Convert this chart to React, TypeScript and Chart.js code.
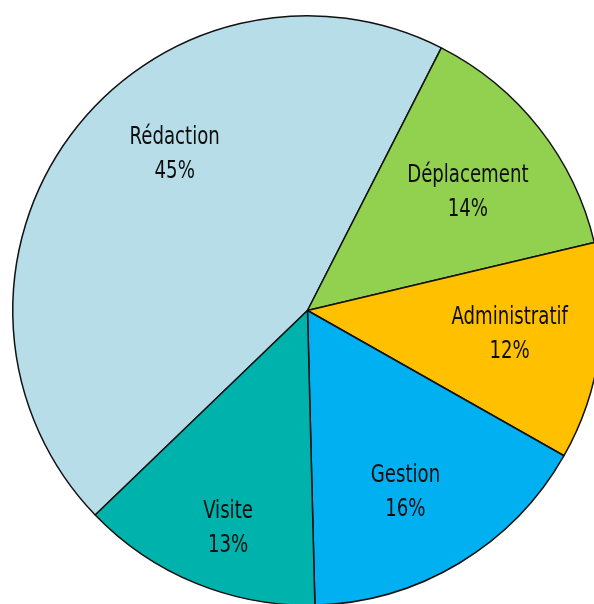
import React, { useEffect, useRef } from "react";
import { Chart, registerables } from "chart.js";

Chart.register(...registerables);

const categories = ["Rédaction", "Déplacement", "Administratif", "Gestion", "Visite"];
const values = [44.7, 13.8, 11.9, 16.4, 13.2];
const colors = ["#B7DDE8", "#92D050", "#FFC000", "#00B0F0", "#00B2AC"];

// label placement tweaks relative to each slice's mid-angle (degrees, fraction of radius)
const labelAngleShift = [13.4, 1.3, -1.9, 2.4, -2.1];
const labelRadiusFrac = [0.7, 0.68, 0.69, 0.695, 0.78];

const FONT = "24px 'Liberation Sans Narrow', 'DejaVu Sans Condensed', sans-serif";
const TEXT_SCALE_X = 0.84;

const labelPlugin = {
  id: "sliceLabels",
  afterDatasetsDraw(chart: any) {
    const ctx = chart.ctx;
    const meta = chart.getDatasetMeta(0);
    const data = chart.data.datasets[0].data as number[];
    const total = data.reduce((a, b) => a + b, 0);
    const drawText = (t: string, x: number, y: number) => {
      ctx.save();
      ctx.translate(x, y);
      ctx.scale(TEXT_SCALE_X, 1);
      ctx.fillText(t, 0, 0);
      ctx.restore();
    };
    ctx.save();
    ctx.font = FONT;
    ctx.fillStyle = "#0d0d0d";
    ctx.textAlign = "center";
    ctx.textBaseline = "alphabetic";
    meta.data.forEach((arc: any, i: number) => {
      const p = arc.getProps(["startAngle", "endAngle", "x", "y", "outerRadius"], true);
      const a = (p.startAngle + p.endAngle) / 2 + (labelAngleShift[i] * Math.PI) / 180;
      const r = p.outerRadius * labelRadiusFrac[i];
      const cx = p.x + Math.cos(a) * r;
      const cy = p.y + Math.sin(a) * r;
      const pct = Math.round((data[i] / total) * 100) + "%";
      drawText(String(chart.data.labels[i]), cx, cy - 8.5);
      drawText(pct, cx, cy + 25.5);
    });
    ctx.restore();
  },
};

export default function App() {
  const ref = useRef<HTMLCanvasElement | null>(null);
  useEffect(() => {
    if (!ref.current) return;
    const total = values.reduce((a, b) => a + b, 0);
    const chart = new Chart(ref.current, {
      type: "pie",
      data: {
        labels: categories,
        datasets: [
          {
            data: values,
            backgroundColor: colors,
            borderColor: "#111",
            borderWidth: 1.5,
          },
        ],
      },
      options: {
        responsive: false,
        animation: false,
        rotation: 27 - (360 * values[0]) / total,
        layout: { padding: { left: 12, top: 15, right: 17, bottom: 14 } },
        plugins: {
          legend: { display: false },
          tooltip: { enabled: false },
        },
      },
      plugins: [labelPlugin],
    });
    return () => chart.destroy();
  }, []);
  return (
    <div
      style={{
        position: "fixed",
        left: 0,
        top: 0,
        width: 594,
        height: 604,
        overflow: "hidden",
        background: "#fff",
      }}
    >
      <canvas
        ref={ref}
        width={620}
        height={620}
        style={{ position: "absolute", left: 0, top: 0, width: 620, height: 620 }}
      />
    </div>
  );
}
